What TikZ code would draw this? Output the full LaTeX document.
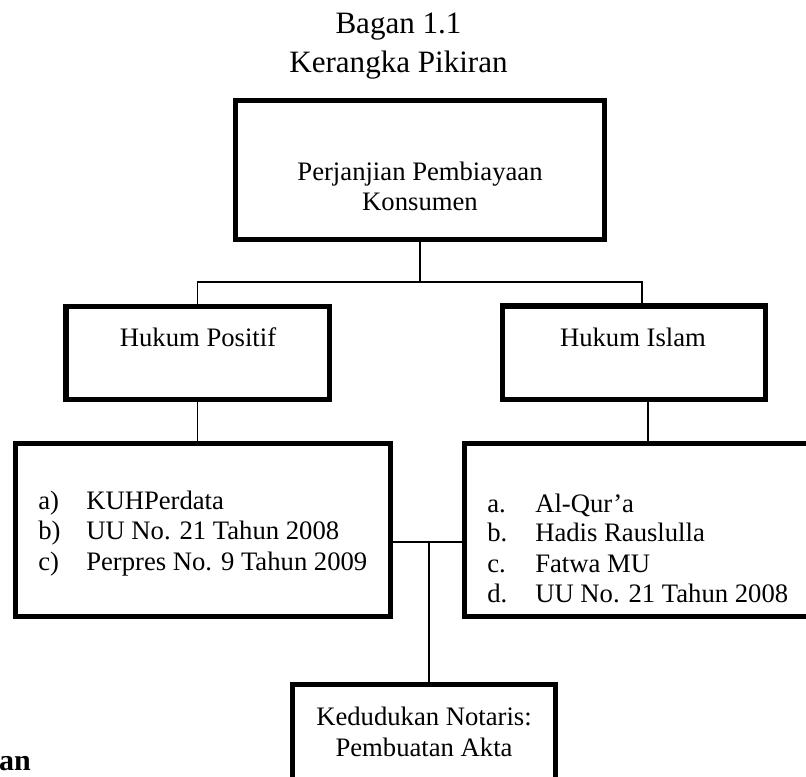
\documentclass[tikz,border=0pt]{standalone}
\usepackage{fontspec}
\setmainfont{Liberation Serif}
\begin{document}
\begin{tikzpicture}[x=0.75pt,y=-0.75pt,
  box/.style={draw,line width=4.1pt,inner sep=0pt},
  link/.style={line width=1.1pt},
  txt/.style={inner sep=0pt,anchor=base,font=\fontsize{20}{24}\selectfont},
  ttl/.style={inner sep=0pt,anchor=base,font=\fontsize{23.3}{28}\selectfont},
  item/.style={inner sep=0pt,anchor=base west,font=\fontsize{20}{24}\selectfont}]
\useasboundingbox (0,0) rectangle (806,776);
\clip (0,0) rectangle (806,776);

% title
\node[ttl] (title1) at (398.5,33) {Bagan 1.1};
\node[ttl] (title2) at (398.5,72) {Kerangka Pikiran};

% boxes
\node[box,minimum width=276.4pt,minimum height=103.9pt] (top) at (420,170) {};
\node[box,minimum width=197.6pt,minimum height=69.4pt] (hp) at (197.5,353) {};
\node[box,minimum width=196.9pt,minimum height=70.1pt] (hi) at (634,352.5) {};
\node[box,minimum width=280.9pt,minimum height=129.4pt] (listL) at (203,530) {};
\node[box,minimum width=271.9pt,minimum height=129.4pt] (listR) at (646,530) {};
\node[box,minimum width=196.9pt,minimum height=84.4pt] (bot) at (424,741) {};

% box texts
\node[txt] (topt1) at (420,180) {Perjanjian Pembiayaan};
\node[txt] (topt2) at (420,210) {Konsumen};
\node[txt] (hpt) at (198,346) {Hukum Positif};
\node[txt] (hit) at (633,346) {Hukum Islam};

\node[item] (la) at (38,509) {a)};
\node[item] (lat) at (86,509) {KUHPerdata};
\node[item] (lb) at (38,539.5) {b)};
\node[item] (lbt) at (86,539.5) {UU No. 21 Tahun 2008};
\node[item] (lc) at (38,570) {c)};
\node[item] (lct) at (86,570) {Perpres No. 9 Tahun 2009};

\node[item] (ra) at (487,512) {a.};
\node[item] (rat) at (535,512) {Al-Qur’a};
\node[item] (rb) at (487,541.5) {b.};
\node[item] (rbt) at (535,541.5) {Hadis Rauslulla};
\node[item] (rc) at (487,572) {c.};
\node[item] (rct) at (535,572) {Fatwa MU};
\node[item] (rd) at (487,602.5) {d.};
\node[item] (rdt) at (535,602.5) {UU No. 21 Tahun 2008};

\node[txt] (bt1) at (424,725) {Kedudukan Notaris:};
\node[txt] (bt2) at (424,756) {Pembuatan Akta};

\node[inner sep=0pt,anchor=base east,font=\fontsize{22.5}{26}\selectfont\bfseries] (an) at (31,770) {an};

% connectors
\coordinate (j) at (420,282);
\coordinate (hiin) at (642,282);
\coordinate (hiout) at (648,0);
\coordinate (m) at (429,542);
\draw[link] (top.south) -- (j);
\draw[link] (hp.north) |- (j);
\draw[link] (j) -- (hiin) -- (hiin |- hi.north);
\draw[link] (hp.south) -- (hp.south |- listL.north);
\draw[link] (hi.south -| hiout) -- (hiout |- listR.north);
\draw[link] (listL.east |- m) -- (listR.west |- m);
\draw[link] (m) -- (m |- bot.north);
\end{tikzpicture}
\end{document}
